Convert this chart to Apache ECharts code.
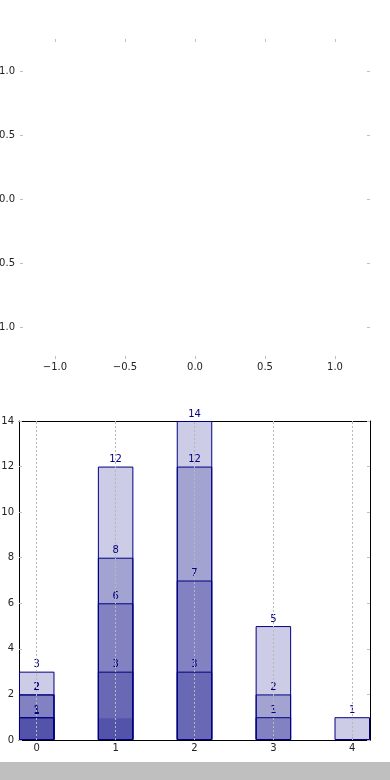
<!DOCTYPE html>
<html>
<head>
<meta charset="utf-8">
<script src="https://cdn.jsdelivr.net/npm/echarts@6/dist/echarts.min.js"></script>
<style>
html,body{margin:0;padding:0;background:#fff;}
#c{width:390px;height:780px;}
</style>
</head>
<body>
<div id="c"></div>
<script>
// ---- data ----
const categories = [0, 1, 2, 3, 4];
const categoryLabels = ['0', '1', '2', '3', '4'];
const layerA = [3, 12, 14, 5, 1];
const layerB = [2, 8, 12, 2, null];
const layerC = [2, 6, 7, 1, null];
const layerD = [1, 3, 3, null, null];
const layerE = [1, 0.95, null, null, null];
const topTickValues = [-1, -0.5, 0, 0.5, 1];
const topTickLabels = ['\u22121.0', '\u22120.5', '0.0', '0.5', '1.0'];

const FONT = 'DejaVu Sans';
const TICK_GRAY = '#c0c0c0';
const NAVY = '#000080';

function topLabel(v) {
  const i = topTickValues.findIndex(t => Math.abs(t - v) < 1e-9);
  return i >= 0 ? topTickLabels[i] : '';
}

function emptyAxisCommon(extra) {
  return Object.assign({
    type: 'value',
    axisLine: { show: false, onZero: false },
    splitLine: { show: false },
    axisTick: { show: true, inside: true, length: 3, lineStyle: { color: TICK_GRAY, width: 1 }, customValues: topTickValues },
    axisLabel: { show: true, customValues: topTickValues, formatter: topLabel, fontFamily: FONT, fontSize: 10, color: '#222' },
    min: -1.25, max: 1.25
  }, extra);
}

function buildData(vals, opts) {
  return vals.map((v, i) => {
    if (v === null) return [categories[i], '-'];
    const item = { value: [categories[i], v] };
    if (opts && opts[i]) Object.assign(item, opts[i]);
    return item;
  });
}

function barSeries(name, vals, opts) {
  return {
    name: name,
    type: 'bar',
    xAxisIndex: 2,
    yAxisIndex: 2,
    barWidth: 35.5,
    barGap: '-100%',
    data: buildData(vals, opts),
    itemStyle: { color: 'rgba(0,0,128,0.2)', borderColor: NAVY, borderWidth: 1 },
    label: { show: true, position: 'top', distance: 2, color: NAVY, fontFamily: FONT, fontSize: 10,
             formatter: p => String(Math.round(p.value[1])) }
  };
}

const chart = echarts.init(document.getElementById('c'), null, { renderer: 'canvas' });

const series = [
  barSeries('A', layerA),
  barSeries('B', layerB),
  barSeries('C', layerC),
  barSeries('D', layerD),
  barSeries('E', layerE, {
    0: { label: { offset: [0, 1] } },
    1: { itemStyle: { borderWidth: 0 }, label: { show: false } }
  })
];
series[0].markLine = {
  silent: true,
  symbol: 'none',
  animation: false,
  label: { show: false },
  lineStyle: { color: '#b8b8b8', type: [2, 2], width: 1 },
  data: categories.map(c => ({ xAxis: c }))
};

const bottomTickStyle = { show: true, inside: true, length: 3, lineStyle: { color: TICK_GRAY, width: 1 } };
const spine = { show: true, onZero: false, lineStyle: { color: '#000', width: 1 } };

chart.setOption({
  animation: false,
  backgroundColor: '#fff',
  grid: [
    { left: 20, top: 39, width: 350, height: 320, containLabel: false, outerBoundsMode: 'none' },
    { left: 19, top: 421, width: 351, height: 319, containLabel: false, outerBoundsMode: 'none' }
  ],
  xAxis: [
    emptyAxisCommon({ gridIndex: 0, position: 'bottom', axisLabel: { show: true, customValues: topTickValues, formatter: topLabel, fontFamily: FONT, fontSize: 10, color: '#222', margin: 3 } }),
    emptyAxisCommon({ gridIndex: 0, position: 'top', axisLabel: { show: false } }),
    {
      type: 'value', gridIndex: 1, position: 'bottom', min: -0.225, max: 4.225,
      axisLine: spine,
      splitLine: { show: false },
      axisTick: Object.assign({ customValues: categories }, bottomTickStyle),
      axisLabel: { customValues: categories, formatter: v => categoryLabels[categories.indexOf(Math.round(v))], fontFamily: FONT, fontSize: 10, color: '#222', margin: 3 }
    },
    {
      type: 'value', gridIndex: 1, position: 'top', min: -0.225, max: 4.225,
      axisLine: spine,
      splitLine: { show: false },
      axisTick: Object.assign({ customValues: categories }, bottomTickStyle),
      axisLabel: { show: false }
    }
  ],
  yAxis: [
    emptyAxisCommon({ gridIndex: 0, position: 'left', axisLabel: { show: true, customValues: topTickValues, formatter: topLabel, fontFamily: FONT, fontSize: 10, color: '#222', margin: 5 } }),
    emptyAxisCommon({ gridIndex: 0, position: 'right', axisLabel: { show: false } }),
    {
      type: 'value', gridIndex: 1, position: 'left', min: 0, max: 14, interval: 2,
      axisLine: spine,
      splitLine: { show: false },
      axisTick: bottomTickStyle,
      axisLabel: { fontFamily: FONT, fontSize: 10, color: '#222', margin: 5 }
    },
    {
      type: 'value', gridIndex: 1, position: 'right', min: 0, max: 14, interval: 2,
      axisLine: spine,
      splitLine: { show: false },
      axisTick: bottomTickStyle,
      axisLabel: { show: false }
    }
  ],
  graphic: [
    { type: 'rect', left: 0, top: 762, shape: { width: 390, height: 18 }, style: { fill: '#bfbfbf' }, silent: true }
  ],
  series: series
});
</script>
</body>
</html>
